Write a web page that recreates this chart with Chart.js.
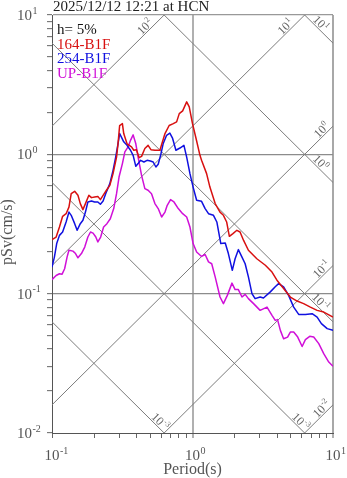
<!DOCTYPE html>
<html>
<head>
<meta charset="utf-8">
<script src="https://cdn.jsdelivr.net/npm/chart.js@4.4.0/dist/chart.umd.min.js"></script>
<style>
  html, body { margin: 0; padding: 0; background: #fff; }
  #wrap { width: 347px; height: 478px; }
</style>
</head>
<body>
<div id="wrap"><canvas id="spec" width="347" height="478"></canvas></div>
<script>
const FONT = '"Liberation Serif", "Times New Roman", serif';
const titleText = '2025/12/12 12:21 at HCN';
const damping = 'h= 5%';

// period (s) and pseudo velocity (cm/s) per channel
const t164 = [0.100,0.107,0.113,0.119,0.126,0.132,0.137,0.145,0.153,0.159,0.166,0.173,0.183,0.191,0.201,0.212,0.221,0.231,0.244,0.258,0.272,0.288,0.295,0.303,0.317,0.324,0.342,0.368,0.382,0.399,0.417,0.434,0.458,0.483,0.506,0.540,0.586,0.637,0.682,0.730,0.771,0.805,0.851,0.909,0.948,1.00,1.06,1.13,1.16,1.26,1.33,1.45,1.57,1.66,1.75,1.83,1.94,2.07,2.18,2.31,2.50,2.87,3.30,3.68,3.99,4.45,4.97,5.55,6.18,6.90,7.71,8.59,10.0];
const sv164 = [0.244,0.255,0.301,0.359,0.375,0.418,0.522,0.543,0.508,0.443,0.401,0.443,0.508,0.489,0.494,0.499,0.473,0.508,0.552,0.599,0.727,0.956,1.19,1.61,1.66,1.41,1.19,1.13,1.07,1.08,0.947,0.967,1.10,1.16,1.08,1.07,1.07,1.41,1.61,1.66,1.71,1.96,2.05,2.38,2.19,1.66,1.30,0.984,0.906,0.727,0.582,0.443,0.385,0.365,0.327,0.258,0.270,0.285,0.277,0.241,0.205,0.178,0.160,0.143,0.125,0.109,0.0946,0.0885,0.0848,0.0801,0.0759,0.0738,0.0679];

const t254 = [0.100,0.104,0.108,0.113,0.119,0.126,0.132,0.137,0.145,0.151,0.159,0.166,0.173,0.180,0.191,0.201,0.212,0.221,0.231,0.241,0.258,0.272,0.284,0.295,0.303,0.312,0.324,0.342,0.362,0.378,0.395,0.410,0.427,0.451,0.475,0.502,0.525,0.549,0.570,0.593,0.618,0.654,0.690,0.722,0.762,0.814,0.869,0.909,0.959,1.01,1.07,1.16,1.23,1.30,1.41,1.49,1.59,1.71,1.80,1.92,2.01,2.12,2.25,2.37,2.50,2.65,2.79,3.03,3.20,3.58,3.88,4.10,4.45,4.83,5.25,5.70,6.36,7.10,7.71,8.27,9.09,10.0];
const sv254 = [0.155,0.183,0.229,0.262,0.277,0.327,0.385,0.365,0.318,0.285,0.318,0.336,0.385,0.455,0.462,0.455,0.455,0.438,0.462,0.522,0.616,0.768,0.956,1.19,1.41,1.33,1.23,1.16,1.07,0.984,0.820,0.858,0.906,0.881,0.906,0.895,0.881,0.811,0.848,0.984,1.19,1.37,1.42,1.30,1.07,1.11,1.16,0.956,0.727,0.582,0.468,0.460,0.408,0.375,0.365,0.327,0.229,0.231,0.194,0.147,0.178,0.207,0.183,0.164,0.132,0.100,0.0921,0.0946,0.0930,0.103,0.112,0.118,0.112,0.0972,0.0801,0.0710,0.0710,0.0718,0.0679,0.0609,0.0561,0.0545];

const tUP = [0.100,0.107,0.113,0.118,0.123,0.128,0.132,0.141,0.147,0.153,0.162,0.171,0.180,0.188,0.196,0.205,0.212,0.222,0.233,0.246,0.260,0.275,0.288,0.300,0.317,0.330,0.348,0.362,0.378,0.395,0.410,0.434,0.458,0.483,0.511,0.540,0.570,0.603,0.637,0.661,0.698,0.738,0.792,0.851,0.909,0.959,1.01,1.07,1.16,1.23,1.30,1.37,1.45,1.57,1.66,1.77,1.91,2.01,2.12,2.25,2.37,2.50,2.72,3.03,3.39,3.68,3.88,4.03,4.22,4.45,4.75,4.97,5.25,5.61,6.03,6.36,6.83,7.29,7.92,8.59,9.33,10.0];
const svUP = [0.126,0.135,0.139,0.138,0.151,0.183,0.205,0.202,0.194,0.181,0.194,0.216,0.255,0.277,0.272,0.255,0.235,0.255,0.301,0.318,0.345,0.408,0.522,0.687,0.858,1.04,1.13,1.26,1.38,1.19,0.956,0.707,0.567,0.552,0.522,0.443,0.408,0.355,0.385,0.431,0.473,0.455,0.408,0.375,0.355,0.301,0.229,0.199,0.185,0.191,0.169,0.164,0.132,0.0946,0.0848,0.0972,0.119,0.107,0.107,0.0946,0.0988,0.0921,0.0848,0.0759,0.0801,0.0699,0.0643,0.0651,0.0545,0.0475,0.0488,0.0530,0.0530,0.0488,0.0418,0.0468,0.0494,0.0488,0.0438,0.0371,0.0323,0.0301];

const series = [
  { label: '164-B1F', t: t164, sv: sv164, color: '#d81010' },
  { label: '254-B1F', t: t254, sv: sv254, color: '#1010e0' },
  { label: 'UP-B1F',  t: tUP,  sv: svUP,  color: '#d010d8' }
];

// axis decades and tripartite guide levels
const xDecades = [0.1, 1, 10];
const yDecades = [0.01, 0.1, 1, 10];
const sdLevels = [0.001, 0.01, 0.1, 1, 10];      // displacement (cm)
const sdLabelExp = [-3, -3, -1, 0, 1];
const saLevels = [0.01, 0.1, 1, 10, 100];        // acceleration (cm/s2)
const saLabelExp = [-2, -1, 0, 1, 2];

const TMIN = 0.1, TMAX = 10, VMIN = 0.01, VMAX = 10;
const TWO_PI = 2 * Math.PI;

function minorTicks(decs) {
  const out = [];
  decs.forEach((d, i) => {
    if (i === decs.length - 1) { out.push(d); return; }
    for (let m = 1; m <= 9; m++) out.push(+(d * m).toPrecision(3));
  });
  return out;
}

function guideSets() {
  const sets = [];
  sdLevels.forEach(d => sets.push({
    data: [{ x: TMIN, y: TWO_PI * d / TMIN }, { x: TMAX, y: TWO_PI * d / TMAX }],
    borderColor: '#7c7c7c', borderWidth: 1, pointRadius: 0
  }));
  saLevels.forEach(a => sets.push({
    data: [{ x: TMIN, y: a * TMIN / TWO_PI }, { x: TMAX, y: a * TMAX / TWO_PI }],
    borderColor: '#7c7c7c', borderWidth: 1, pointRadius: 0
  }));
  return sets;
}

function drawPow(ctx, x, y, exp, size, mode) {
  const supSize = Math.round(size * 0.68);
  const es = exp < 0 ? '-' + (-exp) : String(exp);
  ctx.font = size + 'px ' + FONT;
  const wb = ctx.measureText('10').width;
  ctx.font = supSize + 'px ' + FONT;
  const we = ctx.measureText(es).width;
  let x0 = x;
  if (mode === 'baseCenter') x0 = x - wb / 2;
  else if (mode === 'center') x0 = x - (wb + we) / 2;
  ctx.textAlign = 'left';
  ctx.textBaseline = 'alphabetic';
  ctx.font = size + 'px ' + FONT;
  ctx.fillText('10', x0, y);
  ctx.font = supSize + 'px ' + FONT;
  ctx.fillText(es, x0 + wb + 0.5, y - size * 0.42);
}

const overlay = {
  id: 'overlay',
  afterDraw(chart) {
    const { ctx, chartArea: a, scales: { x, y } } = chart;
    ctx.save();

    ctx.fillStyle = '#222';
    ctx.font = '15px ' + FONT;
    ctx.textAlign = 'left';
    ctx.textBaseline = 'alphabetic';
    ctx.fillText(titleText, a.left + 1, 11);

    // legend block
    ctx.fillStyle = '#111';
    ctx.fillText(damping, a.left + 5, 34);
    series.forEach((s, i) => {
      ctx.fillStyle = s.color;
      ctx.fillText(s.label, a.left + 5, 48.5 + i * 14.5);
    });

    // tick labels
    ctx.fillStyle = '#555';
    xDecades.forEach(v => drawPow(ctx, x.getPixelForValue(v), 460, Math.round(Math.log10(v)), 15, 'baseCenter'));
    yDecades.forEach(v => drawPow(ctx, 17, y.getPixelForValue(v) + 5, Math.round(Math.log10(v)), 15, 'left'));

    // axis titles
    ctx.font = '16px ' + FONT;
    ctx.textAlign = 'center';
    ctx.fillText('Period(s)', (a.left + a.right) / 2, 474);
    ctx.save();
    ctx.translate(12, (a.top + a.bottom) / 2 + 8);
    ctx.rotate(-Math.PI / 2);
    ctx.fillText('pSv(cm/s)', 0, 0);
    ctx.restore();

    // guide labels
    const r2 = Math.SQRT1_2;
    ctx.fillStyle = '#666';
    saLevels.forEach((lv, i) => {
      const tTop = TWO_PI * VMAX / lv;
      let ex, ey, along;
      if (tTop <= TMAX) { ex = x.getPixelForValue(tTop); ey = a.top; along = 22; }
      else { ex = a.right; ey = y.getPixelForValue(lv * TMAX / TWO_PI); along = 11; }
      const perp = 5.5;
      const cx = ex - along * r2 - perp * r2;
      const cy = ey + along * r2 - perp * r2;
      ctx.save();
      ctx.translate(cx, cy);
      ctx.rotate(-Math.PI / 4);
      drawPow(ctx, 0, 4, saLabelExp[i], 12, 'center');
      ctx.restore();
    });
    sdLevels.forEach((lv, i) => {
      const vRight = TWO_PI * lv / TMAX;
      let ex, ey, along;
      if (vRight >= VMIN) { ex = a.right; ey = y.getPixelForValue(vRight); along = 23; }
      else { ex = x.getPixelForValue(TWO_PI * lv / VMIN); ey = a.bottom; along = 11; }
      const perp = 5.5;
      const cx = ex - along * r2 + perp * r2;
      const cy = ey - along * r2 - perp * r2;
      ctx.save();
      ctx.translate(cx, cy);
      ctx.rotate(Math.PI / 4);
      drawPow(ctx, 0, 4, sdLabelExp[i], 12, 'center');
      ctx.restore();
    });

    ctx.restore();
  }
};

const curveSets = series.map(s => ({
  label: s.label,
  data: s.t.map((t, i) => ({ x: t, y: s.sv[i] })),
  borderColor: s.color,
  borderWidth: 1.5,
  borderJoinStyle: 'round',
  pointRadius: 0,
  tension: 0
}));

new Chart(document.getElementById('spec'), {
  type: 'line',
  data: { datasets: [...curveSets, ...guideSets()] },
  options: {
    responsive: false,
    animation: false,
    devicePixelRatio: 1,
    parsing: false,
    layout: { padding: { top: 15, right: 14, left: 0, bottom: 0 } },
    plugins: { legend: { display: false }, tooltip: { enabled: false } },
    scales: {
      x: {
        type: 'logarithmic', min: TMIN, max: TMAX,
        afterBuildTicks: s => { s.ticks = minorTicks(xDecades).map(v => ({ value: v })); },
        afterFit: s => { s.height = 45; },
        ticks: { callback: () => '', autoSkip: false, maxRotation: 0 },
        grid: {
          color: c => c.tick && c.tick.value === 1 ? '#b0b0b0' : (c.tick && c.tick.value === 10 ? '#a8a8a8' : 'rgba(0,0,0,0)'),
          lineWidth: c => c.tick && (c.tick.value === 1 || c.tick.value === 10) ? 2 : 1,
          tickColor: '#666', tickWidth: 1, tickLength: 5
        },
        border: { color: '#555', width: 1 }
      },
      y: {
        type: 'logarithmic', min: VMIN, max: VMAX,
        afterBuildTicks: s => { s.ticks = minorTicks(yDecades).map(v => ({ value: v })); },
        afterFit: s => { s.width = 52; },
        ticks: { callback: () => '', autoSkip: false },
        grid: {
          color: c => c.tick && (c.tick.value === 1 || c.tick.value === 0.1) ? '#8c8c8c' : (c.tick && c.tick.value === 10 ? '#999' : 'rgba(0,0,0,0)'),
          lineWidth: 1.3,
          tickColor: '#666', tickWidth: 1, tickLength: 5
        },
        border: { color: '#555', width: 1 }
      }
    }
  },
  plugins: [overlay]
});
</script>
</body>
</html>
